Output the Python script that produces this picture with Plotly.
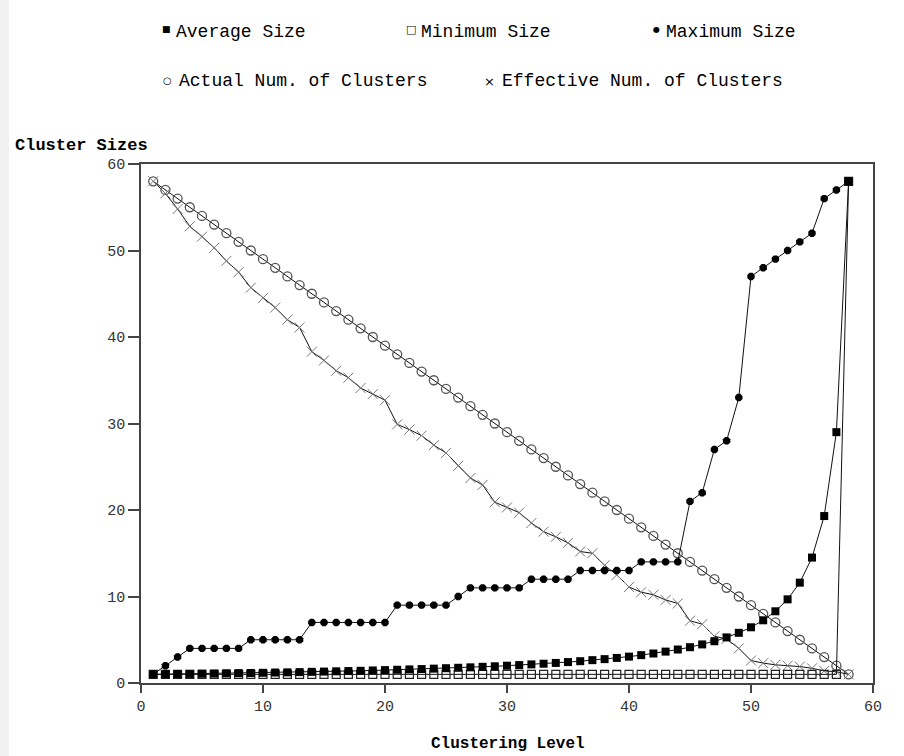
import plotly.graph_objects as go

# Clustering levels 1..58
levels = [1, 2, 3, 4, 5, 6, 7, 8, 9, 10, 11, 12, 13, 14, 15, 16, 17, 18, 19, 20,
          21, 22, 23, 24, 25, 26, 27, 28, 29, 30, 31, 32, 33, 34, 35, 36, 37, 38, 39, 40,
          41, 42, 43, 44, 45, 46, 47, 48, 49, 50, 51, 52, 53, 54, 55, 56, 57, 58]

average_size = [1.00, 1.02, 1.04, 1.05, 1.07, 1.09, 1.12, 1.14, 1.16, 1.18,
                1.21, 1.23, 1.26, 1.29, 1.32, 1.35, 1.38, 1.41, 1.45, 1.49,
                1.53, 1.57, 1.61, 1.66, 1.71, 1.76, 1.81, 1.87, 1.93, 2.00,
                2.07, 2.15, 2.23, 2.32, 2.42, 2.52, 2.64, 2.76, 2.90, 3.05,
                3.22, 3.41, 3.63, 3.87, 4.14, 4.46, 4.83, 5.27, 5.80, 6.44,
                7.25, 8.29, 9.67, 11.6, 14.5, 19.3, 29.0, 58.0]

minimum_size = [1] * 57 + [58]

maximum_size = [1, 2, 3, 4, 4, 4, 4, 4, 5, 5, 5, 5, 5, 7, 7, 7, 7, 7, 7, 7,
                9, 9, 9, 9, 9, 10, 11, 11, 11, 11, 11, 12, 12, 12, 12, 13, 13, 13, 13, 13,
                14, 14, 14, 14, 21, 22, 27, 28, 33, 47, 48, 49, 50, 51, 52, 56, 57, 58]

actual_clusters = [58, 57, 56, 55, 54, 53, 52, 51, 50, 49, 48, 47, 46, 45, 44, 43, 42, 41, 40, 39,
                   38, 37, 36, 35, 34, 33, 32, 31, 30, 29, 28, 27, 26, 25, 24, 23, 22, 21, 20, 19,
                   18, 17, 16, 15, 14, 13, 12, 11, 10, 9, 8, 7, 6, 5, 4, 3, 2, 1]

effective_clusters = [58.0, 56.6, 54.8, 52.8, 51.6, 50.3, 48.8, 47.5, 45.7, 44.5,
                      43.4, 42.0, 41.1, 38.3, 37.3, 36.1, 35.3, 34.1, 33.4, 32.7,
                      29.9, 29.3, 28.6, 27.5, 26.6, 25.1, 23.7, 22.9, 20.9, 20.3,
                      19.7, 18.5, 17.5, 16.9, 16.2, 15.2, 15.0, 13.6, 12.5, 11.1,
                      10.5, 10.2, 9.6, 9.2, 7.2, 6.8, 5.4, 5.1, 4.0, 2.6,
                      2.3, 2.1, 2.0, 1.9, 1.7, 1.4, 1.3, 1.0]

x_ticks = [0, 10, 20, 30, 40, 50, 60]
y_ticks = [0, 10, 20, 30, 40, 50, 60]

MONO = "Liberation Mono, Courier New, monospace"

fig = go.Figure()

fig.add_trace(go.Scatter(
    x=levels, y=actual_clusters, mode="lines+markers",
    line=dict(color="#111111", width=1),
    marker=dict(symbol="circle-open", size=9, color="#555555", line=dict(width=1.3)),
    name="Actual Num. of Clusters"))

fig.add_trace(go.Scatter(
    x=levels, y=effective_clusters, mode="lines+markers",
    line=dict(color="#111111", width=1),
    marker=dict(symbol="x-thin-open", size=10, color="#777777", line=dict(width=1, color="#777777")),
    name="Effective Num. of Clusters"))

fig.add_trace(go.Scatter(
    x=levels, y=minimum_size, mode="lines+markers",
    line=dict(color="#111111", width=1),
    marker=dict(symbol="square-open", size=8, color="#222222", line=dict(width=1.2)),
    name="Minimum Size"))

fig.add_trace(go.Scatter(
    x=levels, y=average_size, mode="lines+markers",
    line=dict(color="#111111", width=1),
    marker=dict(symbol="square", size=8, color="#000000"),
    name="Average Size"))

fig.add_trace(go.Scatter(
    x=levels, y=maximum_size, mode="lines+markers",
    line=dict(color="#111111", width=1),
    marker=dict(symbol="octagon", size=8, color="#000000"),
    name="Maximum Size"))

# Plot area spans 732 x 519 px; helpers convert pixel positions to paper units
PL, PR, PT, PB = 141, 873, 164, 683
def px(x):
    return (x - PL) / (PR - PL)
def py(y):
    return (PB - y) / (PB - PT)

annotations = []
legend_rows = [
    ("■", 166, 29, 9, "Average Size", 174, 32),
    ("□", 411, 29, 11, "Minimum Size", 419, 32),
    ("●", 656, 29, 8, "Maximum Size", 664, 32),
    ("○", 167, 80, 10, "Actual Num. of Clusters", 177, 81),
    ("×", 489, 81, 13, "Effective Num. of Clusters", 500, 81),
]
for glyph, gx, gy, gsize, label, tx, ty in legend_rows:
    annotations.append(dict(xref="paper", yref="paper", x=px(gx), y=py(gy), text=glyph,
                            showarrow=False, xanchor="center", yanchor="middle",
                            font=dict(family="DejaVu Sans", size=gsize, color="#000000")))
    annotations.append(dict(xref="paper", yref="paper", x=px(tx), y=py(ty), text=label,
                            showarrow=False, xanchor="left", yanchor="middle",
                            font=dict(family=MONO, size=18, color="#000000")))

annotations.append(dict(xref="paper", yref="paper", x=px(13), y=py(146), text="<b>Cluster Sizes</b>",
                        showarrow=False, xanchor="left", yanchor="middle",
                        font=dict(family=MONO, size=17, color="#000000")))
annotations.append(dict(xref="paper", yref="paper", x=px(508), y=py(744), text="<b>Clustering Level</b>",
                        showarrow=False, xanchor="center", yanchor="middle",
                        font=dict(family=MONO, size=16, color="#000000")))

fig.update_layout(
    width=904, height=756,
    margin=dict(l=PL, r=904 - PR, t=PT, b=756 - PB, pad=0),
    paper_bgcolor="#ffffff", plot_bgcolor="#ffffff",
    showlegend=False,
    annotations=annotations,
    shapes=[dict(type="rect", xref="paper", yref="paper",
                 x0=px(0), x1=px(9), y0=py(756), y1=py(0),
                 fillcolor="#f1f1f1", line=dict(width=0), layer="below")],
)

fig.update_xaxes(range=[0, 60], tickvals=x_ticks, ticktext=[str(v) for v in x_ticks],
                 showgrid=False, zeroline=False, showline=True, mirror=True,
                 linecolor="#444444", linewidth=1.5, ticks="outside", ticklen=8,
                 tickcolor="#444444", tickwidth=1.5,
                 tickfont=dict(family=MONO, size=15, color="#333333"))
fig.update_yaxes(range=[0, 60], tickvals=y_ticks, ticktext=[str(v) for v in y_ticks],
                 showgrid=False, zeroline=False, showline=True, mirror=True,
                 linecolor="#444444", linewidth=1.5, ticks="outside", ticklen=11,
                 tickcolor="#444444", tickwidth=1.5,
                 tickfont=dict(family=MONO, size=15, color="#333333"))

fig.write_html("out.html")
